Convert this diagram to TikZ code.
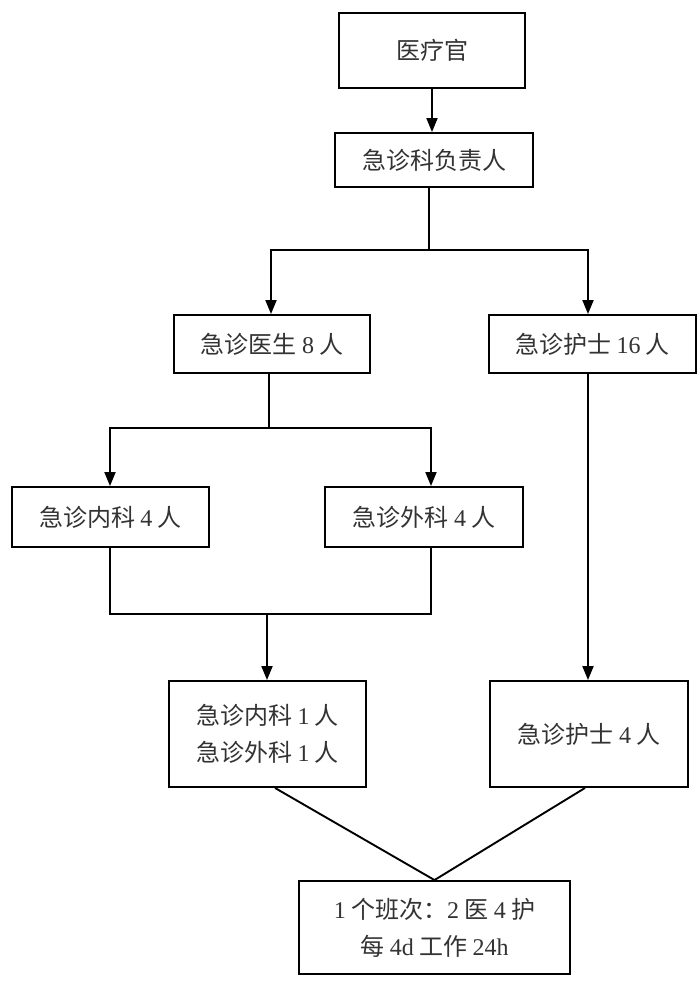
\documentclass[tikz,border=0pt]{standalone}
\usepackage{fontspec}
\setmainfont{Noto Sans CJK SC}
\newfontfamily\latinfont{Liberation Serif}
\newcommand{\lat}[1]{{\latinfont #1}}
\usetikzlibrary{arrows.meta, positioning}

\begin{document}
\begin{tikzpicture}[x=1pt, y=-1pt, line width=1.9pt,
  box/.style={rectangle, draw, line width=1.9pt, inner sep=0pt, align=center, text=black!80, font=\fontsize{24}{37}\selectfont},
  arr/.style={-{Triangle[width=11pt,length=14pt]}}]
\path[fill=white] (0,0) rectangle (700,991);

\node[box, minimum width=186pt, minimum height=75pt] (officer) at (432,50.5) {医疗官};
\node[box, minimum width=198pt, minimum height=54pt] (head) at (434,160) {急诊科负责人};
\node[box, minimum width=196pt, minimum height=58pt] (doctors) at (272,344) {急诊医生 \lat{8} 人};
\node[box, minimum width=207pt, minimum height=58pt] (nurses) at (592.5,344) {急诊护士 \lat{16} 人};
\node[box, minimum width=197pt, minimum height=60pt] (internal) at (110.5,517) {急诊内科 \lat{4} 人};
\node[box, minimum width=198pt, minimum height=60pt] (surgery) at (424,517) {急诊外科 \lat{4} 人};
\node[box, minimum width=197pt, minimum height=106pt] (dutydoc) at (267.5,734) {急诊内科 \lat{1} 人\\急诊外科 \lat{1} 人};
\node[box, minimum width=198pt, minimum height=106pt] (dutynurse) at (589,734) {急诊护士 \lat{4} 人};
\node[box, minimum width=271pt, minimum height=93pt] (shift) at (434.5,927.5) {\lat{1} 个班次：\lat{2} 医 \lat{4} 护\\每 \lat{4d} 工作 \lat{24h}};

% junctions
\coordinate (split1) at (429,250);
\coordinate (l1) at (271,250);
\coordinate (r1) at (588,250);
\coordinate (split2) at (269,428);
\coordinate (l2) at (110,428);
\coordinate (r2) at (431,428);
\coordinate (ml) at (110,614);
\coordinate (mr) at (431,614);
\coordinate (mm) at (267,614);

\draw[arr] (officer.south -| officer) -- (head.north -| officer);
\draw (head.south -| split1) -- (split1);
\draw[arr] (split1) -- (l1) -- (l1 |- doctors.north);
\draw[arr] (split1) -- (r1) -- (r1 |- nurses.north);
\draw (doctors.south -| split2) -- (split2);
\draw[arr] (split2) -- (l2) -- (l2 |- internal.north);
\draw[arr] (split2) -- (r2) -- (r2 |- surgery.north);
\draw[arr] (nurses.south -| r1) -- (r1 |- dutynurse.north);
\draw (internal.south -| ml) -- (ml) -- (mr) -- (surgery.south -| mr);
\draw[arr] (mm) -- (mm |- dutydoc.north);
\draw ([xshift=7.5pt]dutydoc.south) -- (shift.north);
\draw ([xshift=-4pt]dutynurse.south) -- (shift.north);
\end{tikzpicture}
\end{document}
